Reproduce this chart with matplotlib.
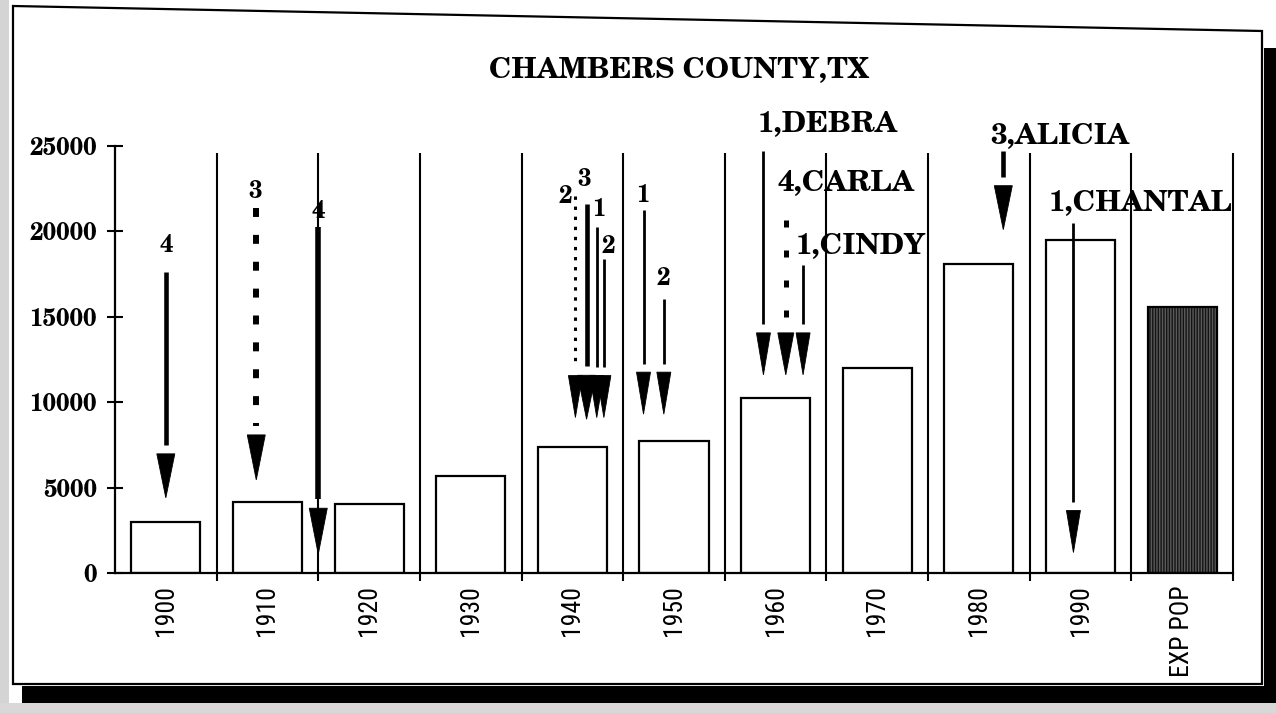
import matplotlib
matplotlib.use("Agg")
import matplotlib.pyplot as plt
from matplotlib import font_manager as fm
from matplotlib.patches import Polygon, Rectangle

# ---------------- data ----------------
categories = ['1900', '1910', '1920', '1930', '1940', '1950', '1960',
              '1970', '1980', '1990', 'EXP POP']
population = [3000, 4150, 4050, 5650, 7400, 7750, 10250, 12000, 18100, 19500, 15550]
y_ticks = [0, 5000, 10000, 15000, 20000, 25000]

# hurricane arrows (position in decade units along the category axis)
storm_labels = ['4', '3', '4', '2', '3', '1', '2', '1', '2',
                '1,DEBRA', '4,CARLA', '1,CINDY', '3,ALICIA', '1,CHANTAL']
storm_pos = [0.0, 0.89, 1.5, 4.03, 4.14, 4.24, 4.31, 4.70, 4.90,
             5.88, 6.10, 6.27, 8.24, 8.93]
storm_top = [17600, 21350, 20250, 22050, 21600, 20250, 18400, 21250, 16050,
             24700, 20650, 18050, 24700, 20500]
storm_tip = [4400, 5450, 1100, 9100, 9000, 9100, 9100, 9300, 9300,
             11600, 11600, 11600, 20100, 1200]

# ---------------- layout / style ----------------
W, H = 1276, 713
DPI = 100
AX_L, AX_R, AX_B, AX_T = 115, 1233, 573, 146   # pixel box of the plotting area

storm_style = ['thick', 'dash', 'heavy', 'dotthin', 'thick', 'thin', 'thin', 'thin', 'thin',
               'thin', 'dot', 'thin', 'thick', 'thin']
STYLES = {
    'thick':   dict(lw=3.3, ls='-', hw=9, hl=44),
    'heavy':   dict(lw=4.0, ls='-', hw=9, hl=46),
    'thin':    dict(lw=2.0, ls='-', hw=7, hl=42),
    'dash':    dict(lw=4.3, ls=(0, (1.5, 3.0)), hw=9, hl=45),
    'dot':     dict(lw=3.6, ls=(0, (1.4, 4.6)), hw=8, hl=42),
    'dotthin': dict(lw=2.2, ls=(0, (1.1, 2.2)), hw=7, hl=42),
}
DIGIT_FS, NAME_FS = 17, 21
# label anchor (x, y, horizontal alignment, size)
label_layout = [(0.0, 19200, 'center', DIGIT_FS), (0.875, 22330, 'center', DIGIT_FS),
                (1.5, 21190, 'center', DIGIT_FS), (3.93, 22060, 'center', DIGIT_FS),
                (4.12, 23040, 'center', DIGIT_FS), (4.26, 21280, 'center', DIGIT_FS),
                (4.35, 19110, 'center', DIGIT_FS), (4.69, 22100, 'center', DIGIT_FS),
                (4.89, 17230, 'center', DIGIT_FS), (5.82, 26240, 'left', NAME_FS),
                (6.02, 22820, 'left', NAME_FS), (6.20, 19140, 'left', NAME_FS),
                (8.11, 25570, 'left', NAME_FS), (8.69, 21610, 'left', NAME_FS)]

_avail = {f.name for f in fm.fontManager.ttflist}


def pick(cands, default):
    for c in cands:
        if c in _avail:
            return c
    return default


SERIF_NAME = pick(['TeX Gyre Schola', 'C059', 'Century Schoolbook L',
                   'New Century Schoolbook', 'Century Schoolbook'], 'DejaVu Serif')
NARROW_NAME = pick(['Arial Narrow', 'Liberation Sans Narrow', 'Arimo Narrow',
                    'Roboto Condensed', 'Archivo Narrow', 'PT Sans Narrow'], 'DejaVu Sans')
SERIF = [SERIF_NAME, 'DejaVu Serif']
NARROW = [NARROW_NAME, 'DejaVu Sans']

fig = plt.figure(figsize=(W / DPI, H / DPI), dpi=DPI)
fig.patch.set_facecolor('white')


def fx(px):
    return px / W


def fy(py):
    return 1 - py / H


# page decorations: scanned frame + drop shadow
fig.patches.append(Rectangle((0, 0), fx(9), 1, transform=fig.transFigure,
                             fc='#d4d4d4', ec='none', zorder=0))
fig.patches.append(Rectangle((0, 0), 1, fy(703), transform=fig.transFigure,
                             fc='#d8d8d8', ec='none', zorder=0))
fig.patches.append(Polygon([[fx(13), fy(6)], [fx(1262), fy(31)], [fx(1262), fy(684)],
                            [fx(13), fy(684)]], closed=True, transform=fig.transFigure,
                           fill=False, ec='black', lw=1.6, zorder=1))
fig.patches.append(Rectangle((fx(22), fy(703)), fx(1276) - fx(22), fy(686) - fy(703),
                             transform=fig.transFigure, fc='black', ec='none', zorder=1))
fig.patches.append(Rectangle((fx(1264), fy(703)), fx(1276) - fx(1264), fy(48) - fy(703),
                             transform=fig.transFigure, fc='black', ec='none', zorder=1))

ax = fig.add_axes([fx(AX_L), fy(AX_B), fx(AX_R) - fx(AX_L), fy(AX_T) - fy(AX_B)])
ax.set_facecolor('none')
ax.set_xlim(-0.5, len(categories) - 0.5)
ax.set_ylim(0, 25000)

xs = list(range(len(categories)))
# bars
ax.bar(xs[:-1], population[:-1], width=0.68, facecolor='white', edgecolor='black',
       linewidth=1.6, zorder=2)
ax.bar(xs[-1:], population[-1:], width=0.68, facecolor='#141414', edgecolor='#5a5a5a',
       hatch='||||||', linewidth=0, zorder=2)
ax.bar(xs[-1:], population[-1:], width=0.68, fill=False, edgecolor='black',
       linewidth=1.6, zorder=3)

# separators between decades
for i in range(len(categories)):
    ax.plot([i + 0.5, i + 0.5], [-450, 24600], color='black', lw=1.5,
            clip_on=False, zorder=2, solid_capstyle='butt')

# spines / ticks
for s in ['top', 'right']:
    ax.spines[s].set_visible(False)
ax.spines['left'].set_linewidth(1.6)
ax.spines['bottom'].set_linewidth(1.6)
ax.set_yticks(y_ticks)
ax.set_yticklabels([str(v) for v in y_ticks], fontfamily=SERIF, fontweight='bold',
                   fontsize=17)
ax.tick_params(axis='y', direction='inout', length=12, width=1.5, pad=7)
ax.set_xticks(xs)
ax.set_xticklabels(categories, rotation=90, fontfamily=NARROW, fontsize=18.5,
                   va='top', ha='center')
ax.tick_params(axis='x', direction='in', length=3, width=1.3, pad=9)

# hurricane arrows
px_per_x = (AX_R - AX_L) / len(categories)
px_per_y = (AX_B - AX_T) / 25000
for i, lab in enumerate(storm_labels):
    st = STYLES[storm_style[i]]
    x, top, tip = storm_pos[i], storm_top[i], storm_tip[i]
    hl = st['hl'] / px_per_y
    hw = st['hw'] / px_per_x
    base = tip + hl
    ax.plot([x, x], [top, base + 0.2 * hl], color='black', lw=st['lw'], linestyle=st['ls'],
            solid_capstyle='butt', dash_capstyle='butt', clip_on=False, zorder=5)
    ax.add_patch(Polygon([[x - hw, base], [x + hw, base], [x, tip]], closed=True,
                         fc='black', ec='black', lw=0.6, clip_on=False, zorder=6))
    lx, ly, ha, fs = label_layout[i]
    ax.text(lx, ly, lab, ha=ha, va='center', fontsize=fs, fontfamily=SERIF,
            fontweight='bold', clip_on=False, zorder=7)

fig.text(fx(679), fy(70), 'CHAMBERS COUNTY,TX', ha='center', va='center',
         fontsize=20.8, fontfamily=SERIF, fontweight='bold')

fig.savefig('out.png', dpi=DPI)
